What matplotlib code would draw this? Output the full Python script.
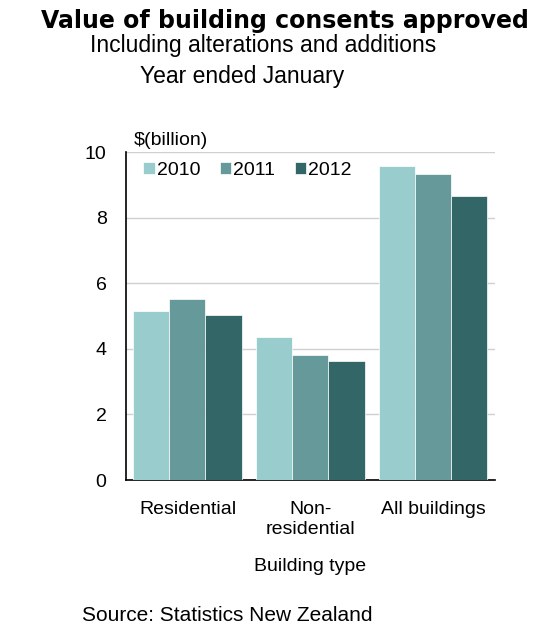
import numpy as np
import matplotlib
matplotlib.use("Agg")
import matplotlib.pyplot as plt

plt.rcParams['font.family'] = ['Liberation Sans', 'DejaVu Sans']

# data
categories = ["Residential", "Non-\nresidential", "All buildings"]
years = ["2010", "2011", "2012"]
v2010 = [5.16, 4.37, 9.57]
v2011 = [5.53, 3.82, 9.33]
v2012 = [5.04, 3.63, 8.65]
colors = ["#99CCCC", "#669999", "#336666"]
yticks = [0, 2, 4, 6, 8, 10]

fig = plt.figure(figsize=(5.49, 6.30), dpi=100)
ax = fig.add_axes([0.2295, 0.238, 0.672, 0.5207])

x = np.arange(len(categories))
w = 0.293
for i, (vals, yr) in enumerate(zip([v2010, v2011, v2012], years)):
    ax.bar(x + (i - 1) * w, vals, width=w, color=colors[i], label=yr,
           edgecolor="white", linewidth=0.5, zorder=3)

ax.set_xlim(-0.5, 2.5)
ax.set_ylim(0, 10)
ax.set_yticks(yticks)
ax.set_yticklabels([str(t) for t in yticks], fontsize=14)
ax.tick_params(axis="y", length=0, pad=14)
ax.set_xticks(x)
ax.set_xticklabels(categories, fontsize=14, linespacing=1.25)
ax.tick_params(axis="x", length=0, pad=15)
ax.grid(axis="y", color="#d0d0d0", linewidth=1, zorder=0)
for s in ["top", "right"]:
    ax.spines[s].set_visible(False)
ax.spines["left"].set_linewidth(1.2)
ax.spines["bottom"].set_linewidth(1.2)

ax.set_xlabel("Building type", fontsize=14, labelpad=14)
ax.text(0.02, 1.02, "$(billion)", transform=ax.transAxes, fontsize=14,
        ha="left", va="baseline")

leg = ax.legend(loc="center left", ncol=3, frameon=False, fontsize=14,
                handlelength=0.6, handleheight=0.6, handletextpad=0.1,
                columnspacing=1.0, borderpad=0, borderaxespad=0,
                bbox_to_anchor=(0.046, 0.944))

fig.text(0.519, 0.956, "Value of building consents approved", ha="center",
         va="baseline", fontsize=17, fontweight="bold", family="DejaVu Sans")
fig.text(0.48, 0.917, "Including alterations and additions", ha="center",
         va="baseline", fontsize=16.5)
fig.text(0.441, 0.869, "Year ended January", ha="center", va="baseline",
         fontsize=16.5)
fig.text(0.149, 0.0143, "Source: Statistics New Zealand", ha="left",
         va="baseline", fontsize=15)

fig.savefig("out.png", dpi=100)
